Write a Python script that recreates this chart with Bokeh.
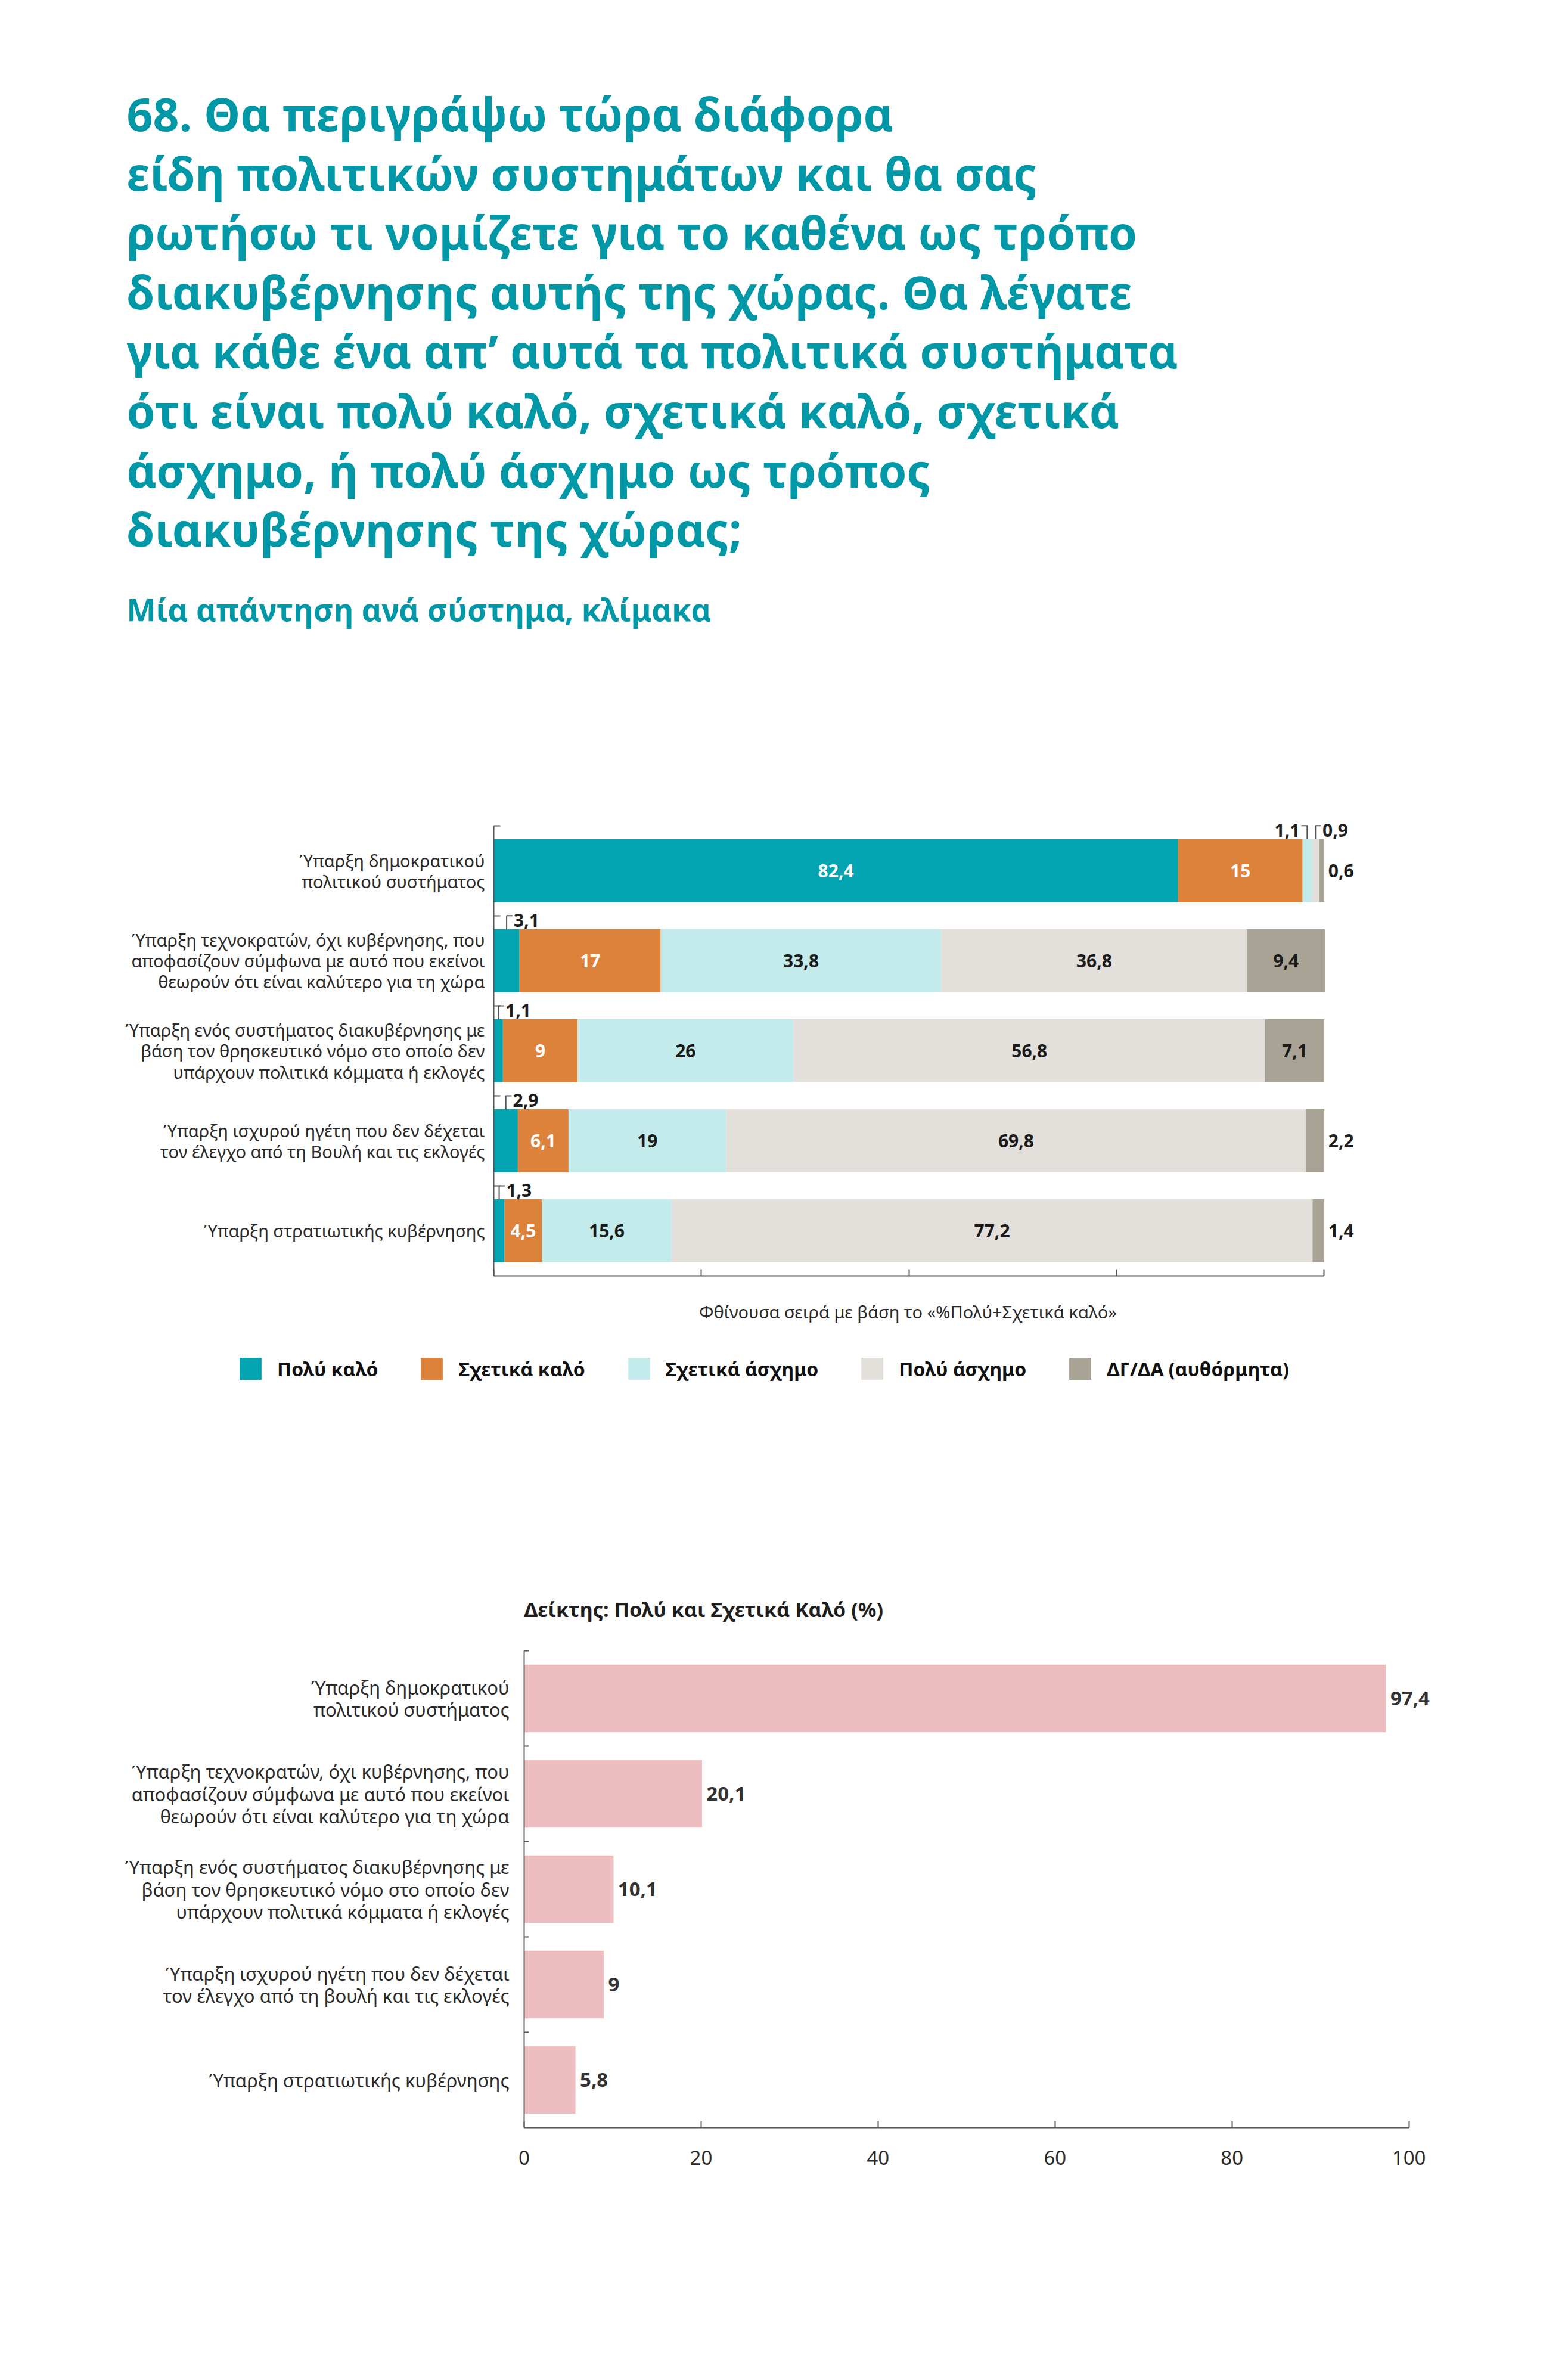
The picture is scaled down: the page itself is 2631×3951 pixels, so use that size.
from bokeh.plotting import figure
from bokeh.models import Range1d, LinearAxis, FixedTicker, Legend, LegendItem, ColumnDataSource
from bokeh.embed import file_html
from bokeh.resources import INLINE
from bokeh.core.properties import value

# ---------------- data ----------------
title_lines = [
    "68. Θα περιγράψω τώρα διάφορα",
    "είδη πολιτικών συστημάτων και θα σας",
    "ρωτήσω τι νομίζετε για το καθένα ως τρόπο",
    "διακυβέρνησης αυτής της χώρας. Θα λέγατε",
    "για κάθε ένα απ’ αυτά τα πολιτικά συστήματα",
    "ότι είναι πολύ καλό, σχετικά καλό, σχετικά",
    "άσχημο, ή πολύ άσχημο ως τρόπος",
    "διακυβέρνησης της χώρας;",
]
subtitle = "Μία απάντηση ανά σύστημα, κλίμακα"
axis_note = "Φθίνουσα σειρά με βάση το «%Πολύ+Σχετικά καλό»"
chart2_title = "Δείκτης: Πολύ και Σχετικά Καλό (%)"

categories_top = [
    "Ύπαρξη δημοκρατικού\nπολιτικού συστήματος",
    "Ύπαρξη τεχνοκρατών, όχι κυβέρνησης, που\nαποφασίζουν σύμφωνα με αυτό που εκείνοι\nθεωρούν ότι είναι καλύτερο για τη χώρα",
    "Ύπαρξη ενός συστήματος διακυβέρνησης με\nβάση τον θρησκευτικό νόμο στο οποίο δεν\nυπάρχουν πολιτικά κόμματα ή εκλογές",
    "Ύπαρξη ισχυρού ηγέτη που δεν δέχεται\nτον έλεγχο από τη Βουλή και τις εκλογές",
    "Ύπαρξη στρατιωτικής κυβέρνησης",
]
categories_bottom = [
    "Ύπαρξη δημοκρατικού\nπολιτικού συστήματος",
    "Ύπαρξη τεχνοκρατών, όχι κυβέρνησης, που\nαποφασίζουν σύμφωνα με αυτό που εκείνοι\nθεωρούν ότι είναι καλύτερο για τη χώρα",
    "Ύπαρξη ενός συστήματος διακυβέρνησης με\nβάση τον θρησκευτικό νόμο στο οποίο δεν\nυπάρχουν πολιτικά κόμματα ή εκλογές",
    "Ύπαρξη ισχυρού ηγέτη που δεν δέχεται\nτον έλεγχο από τη βουλή και τις εκλογές",
    "Ύπαρξη στρατιωτικής κυβέρνησης",
]

series_names = ["Πολύ καλό", "Σχετικά καλό", "Σχετικά άσχημο", "Πολύ άσχημο", "ΔΓ/ΔΑ (αυθόρμητα)"]
poly_kalo = [82.4, 3.1, 1.1, 2.9, 1.3]
sxetika_kalo = [15, 17, 9, 6.1, 4.5]
sxetika_asxhmo = [1.1, 33.8, 26, 19, 15.6]
poly_asxhmo = [0.9, 36.8, 56.8, 69.8, 77.2]
dg_da = [0.6, 9.4, 7.1, 2.2, 1.4]

deiktis = [97.4, 20.1, 10.1, 9, 5.8]

x_ticks_top = [0, 25, 50, 75, 100]
x_ticks_bottom = [0, 20, 40, 60, 80, 100]

# ---------------- style ----------------
FONT = "Noto Sans"
PAGE_W = 2631
TEAL_TITLE = "#0098A6"
colors = ["#02A4B1", "#DD823B", "#C4EBEB", "#E3DFDB", "#A9A396"]
text_on = ["white", "white", "#1a1a1a", "#1a1a1a", "#1a1a1a"]
PINK = "#EDBEBF"
DARK = "#1e1e1e"
LABEL = "#2a2a2a"
AXIS = "#555555"


def fmt(v):
    return f"{v:g}".replace(".", ",")


def clean(p):
    p.grid.visible = False
    p.outline_line_color = None
    p.background_fill_color = "white"
    p.border_fill_color = "white"


# ---------------- header ----------------
HA = 1300
head = figure(width=PAGE_W, height=HA, x_range=Range1d(0, PAGE_W), y_range=Range1d(HA, 0),
              x_axis_location=None, y_axis_location=None, min_border=0,
              output_backend="svg", toolbar_location=None)
clean(head)
head.text(x=[212] * len(title_lines), y=[190 + 99.6 * k for k in range(len(title_lines))], text=title_lines,
          text_font=value(FONT), text_font_style="bold", text_font_size="77px",
          text_color=TEAL_TITLE, text_baseline="alphabetic", text_align="left")
head.text(x=[212], y=[1021], text=[subtitle], text_font=value(FONT), text_font_style="bold",
          text_font_size="52px", text_color=TEAL_TITLE, text_baseline="alphabetic")

# ---------------- chart 1: stacked bars ----------------
n = len(categories_top)
pos = list(range(n))
keys = ["vg", "sg", "sb", "vb", "dk"]
series = [poly_kalo, sxetika_kalo, sxetika_asxhmo, poly_asxhmo, dg_da]
src = ColumnDataSource(dict(pos=pos, **{k: s for k, s in zip(keys, series)}))

HB = 870
b = figure(width=PAGE_W, height=HB, x_range=Range1d(0, 106), y_range=Range1d(n - 0.5, -0.79),
           x_axis_location=None, y_axis_location=None,
           min_border_left=828, min_border_right=326, min_border_top=41, min_border_bottom=30,
           output_backend="svg", toolbar_location=None)
clean(b)
b.hbar_stack(keys, y="pos", height=0.7, color=colors, line_color=None, source=src)

in_x, in_y, in_t, in_c = [], [], [], []
out_x, out_y, out_t, out_al = [], [], [], []
side_x, side_y, side_t = [], [], []
lx, ly = [], []
for i in pos:
    left = 0.0
    for s, vals in enumerate(series):
        v = vals[i]
        c = left + v / 2
        if v >= 4:
            in_x.append(c); in_y.append(i); in_t.append(fmt(v)); in_c.append(text_on[s])
        elif s == len(series) - 1:
            side_x.append(100.5); side_y.append(i); side_t.append(fmt(v))
        elif s == 2:
            lx.append([c, c, c - 0.7]); ly.append([i - 0.35, i - 0.5, i - 0.5])
            out_x.append(c - 0.85); out_y.append(i - 0.45); out_t.append(fmt(v)); out_al.append("right")
        else:
            lx.append([c, c, c + 0.7]); ly.append([i - 0.35, i - 0.5, i - 0.5])
            out_x.append(c + 0.85); out_y.append(i - 0.45); out_t.append(fmt(v)); out_al.append("left")
        left += v

b.multi_line(xs=lx, ys=ly, line_color=AXIS, line_width=2)
b.text(x=in_x, y=in_y, text=in_t, text_color=in_c, text_font=value(FONT), text_font_style="bold",
       text_font_size="30px", text_align="center", text_baseline="middle")
b.text(x="x", y="y", text="t", text_align="al", source=ColumnDataSource(dict(x=out_x, y=out_y, t=out_t, al=out_al)),
       text_color=DARK, text_font=value(FONT), text_font_style="bold", text_font_size="30px",
       text_baseline="alphabetic")
b.text(x=side_x, y=side_y, text=side_t, text_color=DARK, text_font=value(FONT), text_font_style="bold",
       text_font_size="30px", text_align="left", text_baseline="middle")

yax = LinearAxis(ticker=FixedTicker(ticks=pos, minor_ticks=[p - 0.5 for p in pos]), bounds=(-0.5, n - 0.5),
                 major_label_overrides={i: lab for i, lab in zip(pos, categories_top)},
                 major_tick_in=0, major_tick_out=0, minor_tick_in=11, minor_tick_out=0,
                 minor_tick_line_color=AXIS, minor_tick_line_width=2,
                 axis_line_color=AXIS, axis_line_width=2, major_label_standoff=15,
                 major_label_text_font=FONT, major_label_text_font_size="29px",
                 major_label_text_line_height=0.9, major_label_text_color=LABEL)
b.add_layout(yax, "left")
xax = LinearAxis(ticker=FixedTicker(ticks=x_ticks_top), bounds=(0, 100),
                 major_tick_in=11, major_tick_out=0, major_tick_line_color=AXIS, major_tick_line_width=2,
                 axis_line_color=AXIS, axis_line_width=2, major_label_standoff=0,
                 major_label_text_font_size="2px", major_label_text_color=None,
                 minor_tick_line_color=None)
b.add_layout(xax, "below")

# ---------------- middle: note, legend, chart-2 title ----------------
HC = 560
mid = figure(width=PAGE_W, height=HC, x_range=Range1d(0, PAGE_W), y_range=Range1d(HC, 0),
             x_axis_location=None, y_axis_location=None, min_border=0,
             output_backend="svg", toolbar_location=None)
clean(mid)
mid.text(x=[1523], y=[30], text=[axis_note], text_font=value(FONT), text_font_size="29px",
         text_color=LABEL, text_align="center", text_baseline="middle")
mid.text(x=[879], y=[529], text=[chart2_title], text_font=value(FONT), text_font_style="bold",
         text_font_size="34px", text_color=DARK, text_align="left", text_baseline="middle")
items = []
for name, col in zip(series_names, colors):
    # swatch-only renderer, its single point lies outside the visible range
    r = mid.rect(x=[-500], y=[-500], width=1, height=1, fill_color=col, line_color=None)
    items.append(LegendItem(label=name, renderers=[r]))
leg = Legend(items=items, orientation="horizontal", location=(397, 411), glyph_width=46, glyph_height=46,
             label_standoff=22, spacing=67, padding=0, margin=0, border_line_color=None,
             background_fill_alpha=0, label_text_font=FONT, label_text_font_style="bold",
             label_text_font_size="32px", label_text_color="#111111", label_text_baseline="middle")
mid.add_layout(leg, "center")

# ---------------- chart 2: index bars ----------------
HD = 970
d = figure(width=PAGE_W, height=HD, x_range=Range1d(0, 104), y_range=Range1d(n - 0.5, -0.5),
           x_axis_location=None, y_axis_location=None,
           min_border_left=879, min_border_right=208, min_border_top=39, min_border_bottom=131,
           output_backend="svg", toolbar_location=None)
clean(d)
src2 = ColumnDataSource(dict(pos=pos, v=deiktis, lab=[fmt(v) for v in deiktis],
                             lx=[v + 0.5 for v in deiktis]))
d.hbar(y="pos", right="v", left=0, height=0.71, color=PINK, line_color=None, source=src2)
d.text(x="lx", y="pos", text="lab", source=src2, text_color="#333333", text_font=value(FONT),
       text_font_style="bold", text_font_size="33px", text_align="left", text_baseline="middle")
yax2 = LinearAxis(ticker=FixedTicker(ticks=pos, minor_ticks=[p - 0.5 for p in pos]), bounds=(-0.5, n - 0.5),
                  major_label_overrides={i: lab for i, lab in zip(pos, categories_bottom)},
                  major_tick_in=0, major_tick_out=0, minor_tick_in=8, minor_tick_out=0,
                  minor_tick_line_color=AXIS, minor_tick_line_width=2,
                  axis_line_color=AXIS, axis_line_width=2, major_label_standoff=25,
                  major_label_text_font=FONT, major_label_text_font_size="31px",
                  major_label_text_line_height=0.9, major_label_text_color=LABEL)
d.add_layout(yax2, "left")
xax2 = LinearAxis(ticker=FixedTicker(ticks=x_ticks_bottom), bounds=(0, 100),
                  major_tick_in=11, major_tick_out=0, major_tick_line_color=AXIS, major_tick_line_width=2,
                  axis_line_color=AXIS, axis_line_width=2, major_label_standoff=38,
                  major_label_text_font=FONT, major_label_text_font_size="33px",
                  major_label_text_color=LABEL, minor_tick_line_color=None)
d.add_layout(xax2, "below")

open("out.html", "w").write(file_html([head, b, mid, d], INLINE))
